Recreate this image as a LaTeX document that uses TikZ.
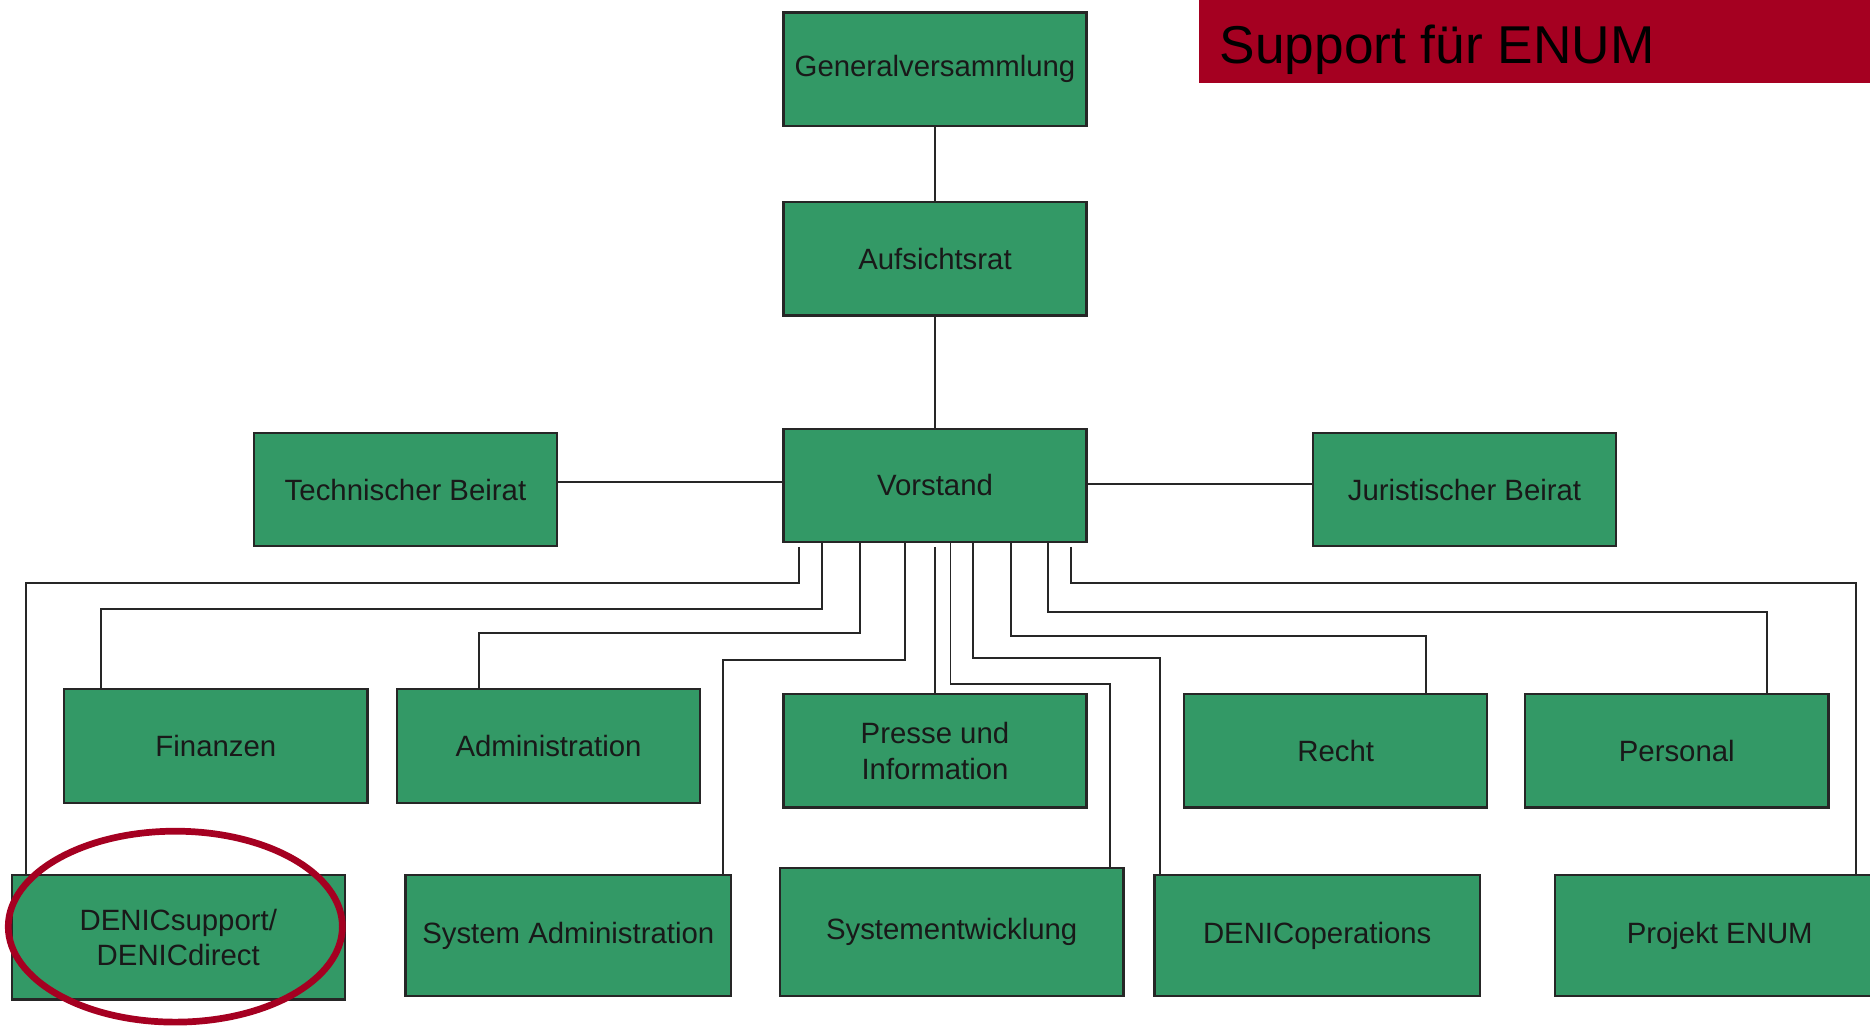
\documentclass[tikz,border=0pt]{standalone}
\usepackage{fontspec}
\setmainfont{Liberation Sans}
\usetikzlibrary{calc}

\definecolor{boxgreen}{RGB}{51,153,102}
\definecolor{enumred}{RGB}{165,0,33}

\tikzset{
    orgbox/.style={draw=black!85, line width=0.55pt, fill=boxgreen, text=black!90,
        minimum width=2.54cm, minimum height=0.95cm, inner sep=0pt, align=center,
        font=\fontsize{7}{8.5}\selectfont},
    link/.style={draw=black!85, line width=0.45pt}
}

\begin{document}
\begin{tikzpicture}[x=0.01cm,y=-0.01cm]
                \clip (0,0) rectangle (1568,860);
                \fill[white] (0,0) rectangle (1568,860);
                \fill[enumred] (1005,0) rectangle (1568,70);
                \node[anchor=west, inner sep=0pt, font=\fontsize{12.7}{14}\selectfont] (title) at (1022,42) {Support für ENUM};
                \node[orgbox] (gv) at (784,58) {Generalversammlung};
                \node[orgbox] (ar) at (784,217) {Aufsichtsrat};
                \node[orgbox] (vs) at (784,407) {Vorstand};
                \node[orgbox] (tb) at (340,410.5) {Technischer Beirat};
                \node[orgbox] (jb) at (1228,410.5) {Juristischer Beirat};
                \node[orgbox] (fin) at (181,625.5) {Finanzen};
                \node[orgbox] (adm) at (460,625.5) {Administration};
                \node[orgbox] (pr) at (784,629.5) {Presse und\\Information};
                \node[orgbox] (re) at (1120,629.5) {Recht};
                \node[orgbox] (pe) at (1406,629.5) {Personal};
                \node[orgbox, minimum width=2.79cm, minimum height=1.04cm] (ds) at (149.5,786) {DENICsupport/\\DENICdirect};
                \node[orgbox, minimum width=2.73cm, minimum height=1.01cm] (sa) at (476.5,784.5) {System Administration};
                \node[orgbox, minimum width=2.88cm, minimum height=1.07cm] (se) at (798,781.5) {Systementwicklung};
                \node[orgbox, minimum width=2.73cm, minimum height=1.01cm] (do) at (1104.5,784.5) {DENICoperations};
                \node[orgbox, minimum width=2.76cm, minimum height=1.01cm] (pj) at (1442,784.5) {Projekt ENUM};
                \draw[link] (gv) -- (ar);
                \draw[link] (ar) -- (vs);
                \draw[link] ($(tb.east)+(0,-6)$) -- ($(vs.west |- tb.east)+(0,-6)$);
                \draw[link] ($(vs.east)+(0,-1)$) -- ($(jb.west |- vs.east)+(0,-1)$);
                \draw[link] ($(vs.south)+(-114,3)$) -- ++(0,30) -| ($(ds.north west)+(13,0)$);
                \draw[link] ($(vs.south)+(-95,0)$) -- ++(0,55) -| ($(fin.north west)+(32,0)$);
                \draw[link] ($(vs.south)+(-63,0)$) -- ++(0,75) -| ($(adm.north west)+(70,0)$);
                \draw[link] ($(vs.south)+(-25,0)$) -- ++(0,98) -| ($(sa.north west)+(267,0)$);
                \draw[link] ($(vs.south)+(0,3)$) -- (pr);
                \draw[link] ($(vs.south)+(13,0)$) -- ++(0,118) -| ($(se.north east)+(-12,0)$);
                \draw[link] ($(vs.south)+(32,0)$) -- ++(0,96) -| ($(do.north west)+(6,0)$);
                \draw[link] ($(vs.south)+(64,0)$) -- ++(0,78) -| ($(re.north)+(76,0)$);
                \draw[link] ($(vs.south)+(95,0)$) -- ++(0,58) -| ($(pe.north)+(76,0)$);
                \draw[link] ($(vs.south)+(114,3)$) -- ++(0,30) -| ($(pj.north west)+(253,0)$);
                \draw[enumred, line width=1.6pt] (ds.center) ++(-2.5,-9) ellipse [x radius=1.40cm, y radius=0.80cm];
            \end{tikzpicture}
\end{document}
